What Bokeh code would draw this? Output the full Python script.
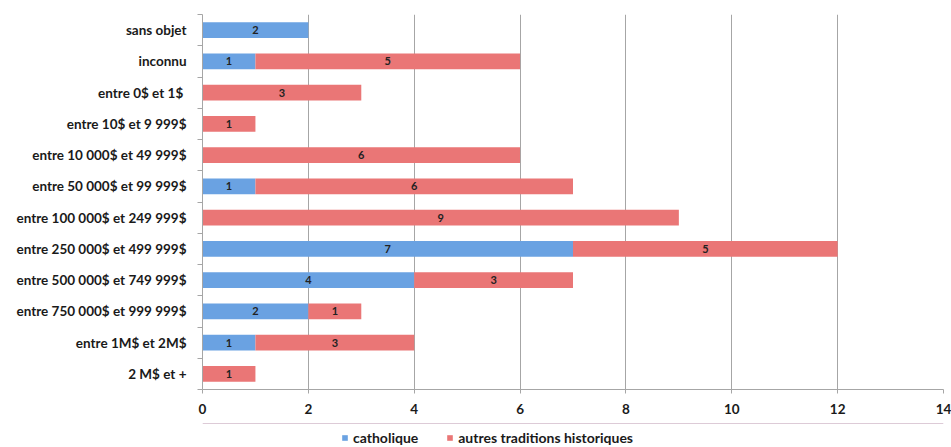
from bokeh.plotting import figure
from bokeh.layouts import column
from bokeh.models import ColumnDataSource, FixedTicker, Range1d, Legend, LegendItem
from bokeh.embed import file_html
from bokeh.resources import INLINE
from bokeh.core.properties import value

categories = [
    "sans objet",
    "inconnu",
    "entre 0$ et 1$ ",
    "entre 10$ et 9 999$",
    "entre 10 000$ et 49 999$",
    "entre 50 000$ et 99 999$",
    "entre 100 000$ et 249 999$",
    "entre 250 000$ et 499 999$",
    "entre 500 000$ et 749 999$",
    "entre 750 000$ et 999 999$",
    "entre 1M$ et 2M$",
    "2 M$ et +",
]
catholique = [2, 1, 0, 0, 0, 1, 0, 7, 4, 2, 1, 0]
autres = [0, 5, 3, 1, 6, 6, 9, 5, 3, 1, 3, 1]
series_names = ["catholique", "autres traditions historiques"]
x_ticks = [0, 2, 4, 6, 8, 10, 12, 14]

BLUE = "#6aa2e2"
RED = "#ea7676"
FONT = "Lato"

n = len(categories)
ypos = [n - 1 - i for i in range(n)]

src = ColumnDataSource(dict(y=ypos, cat=catholique, aut=autres))

p = figure(width=951, height=423, output_backend="svg", toolbar_location=None,
           x_range=Range1d(0, 14), y_range=Range1d(-0.5, n - 0.5),
           min_border_left=202, min_border_right=8, min_border_top=14,
           min_border_bottom=34)
p.outline_line_color = None

renderers = p.hbar_stack(["cat", "aut"], y="y", height=0.5, color=[BLUE, RED],
                         line_color=None, source=src)

# value labels
lx, ly, lt = [], [], []
for i in range(n):
    c, a = catholique[i], autres[i]
    if c:
        lx.append(c / 2); ly.append(ypos[i]); lt.append(str(c))
    if a:
        lx.append(c + a / 2); ly.append(ypos[i]); lt.append(str(a))
p.text(x=lx, y=ly, text=lt, text_align="center", text_baseline="middle",
       text_font=value(FONT), text_font_style="bold", text_font_size="11px",
       text_color="#222222")

# x axis
p.xaxis.ticker = FixedTicker(ticks=x_ticks)
p.xaxis.axis_line_color = "#a6a6a6"
p.xaxis.major_tick_line_color = "#a6a6a6"
p.xaxis.major_tick_out = 4
p.xaxis.major_tick_in = 0
p.xaxis.minor_tick_line_color = None
p.xaxis.major_label_text_font = FONT
p.xaxis.major_label_text_font_style = "bold"
p.xaxis.major_label_text_font_size = "13.5px"
p.xaxis.major_label_text_color = "#1a1a1a"
p.xaxis.major_label_standoff = 10

# y axis
p.yaxis.ticker = FixedTicker(ticks=ypos, minor_ticks=[k - 0.5 for k in range(n + 1)])
p.yaxis.major_label_overrides = {ypos[i]: categories[i] for i in range(n)}
p.yaxis.axis_line_color = "#a6a6a6"
p.yaxis.major_tick_line_color = None
p.yaxis.major_tick_out = 0
p.yaxis.major_tick_in = 0
p.yaxis.minor_tick_line_color = "#a6a6a6"
p.yaxis.minor_tick_out = 5
p.yaxis.minor_tick_in = 0
p.yaxis.major_label_text_font = FONT
p.yaxis.major_label_text_font_style = "bold"
p.yaxis.major_label_text_font_size = "13.5px"
p.yaxis.major_label_text_color = "#1a1a1a"
p.yaxis.major_label_standoff = 11

p.ygrid.grid_line_color = None
p.xgrid.grid_line_color = "#a6a6a6"
p.xgrid.ticker = FixedTicker(ticks=x_ticks)

# legend strip below the chart (proxy glyphs lie outside its visible range)
lf = figure(width=951, height=24, output_backend="svg", toolbar_location=None,
            x_range=Range1d(0, 1), y_range=Range1d(0, 1),
            x_axis_location=None, y_axis_location=None,
            min_border_left=202, min_border_right=8, min_border_top=0,
            min_border_bottom=0)
lf.outline_line_color = None
lf.grid.grid_line_color = None
proxy = ColumnDataSource(dict(y=[5], right=[1]))
r_blue = lf.hbar(y="y", right="right", height=0.5, color=BLUE, line_color=None, source=proxy)
r_red = lf.hbar(y="y", right="right", height=0.5, color=RED, line_color=None, source=proxy)

legend = Legend(items=[LegendItem(label=series_names[0], renderers=[r_blue]),
                       LegendItem(label=series_names[1], renderers=[r_red])],
                orientation="horizontal", location=(139, 1),
                border_line_color=None, background_fill_alpha=0,
                label_text_font=FONT, label_text_font_style="bold",
                label_text_font_size="14px", label_text_color="#1a1a1a",
                glyph_width=7, glyph_height=7, spacing=28, padding=0, margin=0,
                label_standoff=5)
lf.add_layout(legend, "center")

layout = column(p, lf, spacing=0)
open("out.html", "w").write(file_html(layout, INLINE))
